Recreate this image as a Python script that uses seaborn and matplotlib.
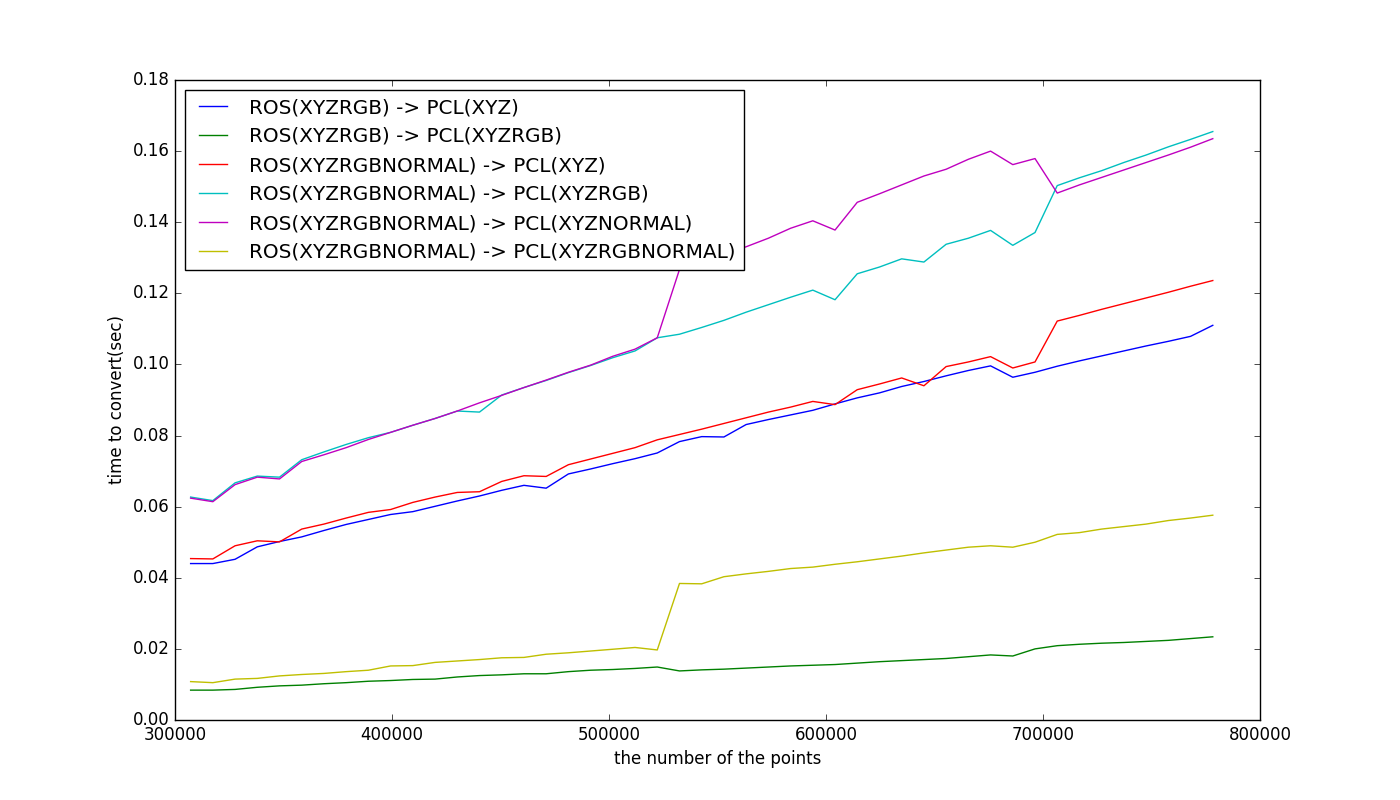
import pandas as pd
import seaborn as sns
import matplotlib
matplotlib.use("Agg")
import matplotlib.pyplot as plt

points = [307200, 317440, 327680, 337920, 348160, 358400, 368640, 378880, 389120, 399360,
          409600, 419840, 430080, 440320, 450560, 460800, 471040, 481280, 491520, 501760,
          512000, 522240, 532480, 542720, 552960, 563200, 573440, 583680, 593920, 604160,
          614400, 624640, 634880, 645120, 655360, 665600, 675840, 686080, 696320, 706560,
          716800, 727040, 737280, 747520, 757760, 768000, 778240]

xyzrgb_to_xyz = [0.0440, 0.0440, 0.0452, 0.0487, 0.0502, 0.0515, 0.0533, 0.0550, 0.0564, 0.0578,
                 0.0586, 0.0601, 0.0616, 0.0630, 0.0646, 0.0660, 0.0652, 0.0692, 0.0706, 0.0721,
                 0.0735, 0.0751, 0.0783, 0.0797, 0.0796, 0.0831, 0.0845, 0.0858, 0.0871, 0.0889,
                 0.0906, 0.0920, 0.0938, 0.0952, 0.0968, 0.0983, 0.0996, 0.0964, 0.0978, 0.0995,
                 0.1010, 0.1024, 0.1038, 0.1052, 0.1065, 0.1079, 0.1110]
xyzrgb_to_xyzrgb = [0.0084, 0.0084, 0.0086, 0.0092, 0.0096, 0.0098, 0.0102, 0.0105, 0.0109, 0.0111,
                    0.0114, 0.0115, 0.0121, 0.0125, 0.0127, 0.0130, 0.0130, 0.0136, 0.0140, 0.0142,
                    0.0145, 0.0149, 0.0138, 0.0141, 0.0143, 0.0146, 0.0149, 0.0152, 0.0154, 0.0156,
                    0.0160, 0.0164, 0.0167, 0.0170, 0.0173, 0.0178, 0.0183, 0.0180, 0.0200, 0.0209,
                    0.0213, 0.0216, 0.0218, 0.0221, 0.0224, 0.0229, 0.0234]
normal_to_xyz = [0.0454, 0.0453, 0.0490, 0.0504, 0.0501, 0.0537, 0.0551, 0.0568, 0.0584, 0.0592,
                 0.0612, 0.0627, 0.0640, 0.0642, 0.0671, 0.0687, 0.0685, 0.0718, 0.0734, 0.0750,
                 0.0766, 0.0788, 0.0803, 0.0818, 0.0834, 0.0850, 0.0866, 0.0880, 0.0896, 0.0887,
                 0.0929, 0.0945, 0.0962, 0.0940, 0.0994, 0.1007, 0.1022, 0.0990, 0.1007, 0.1122,
                 0.1138, 0.1155, 0.1171, 0.1187, 0.1203, 0.1220, 0.1236]
normal_to_xyzrgb = [0.0627, 0.0617, 0.0667, 0.0686, 0.0683, 0.0732, 0.0754, 0.0775, 0.0794, 0.0809,
                    0.0829, 0.0848, 0.0869, 0.0866, 0.0914, 0.0935, 0.0955, 0.0977, 0.0997, 0.1019,
                    0.1038, 0.1075, 0.1085, 0.1104, 0.1124, 0.1147, 0.1168, 0.1189, 0.1209, 0.1182,
                    0.1255, 0.1274, 0.1297, 0.1288, 0.1338, 0.1355, 0.1377, 0.1335, 0.1371, 0.1503,
                    0.1525, 0.1545, 0.1568, 0.1589, 0.1612, 0.1633, 0.1655]
normal_to_xyznormal = [0.0624, 0.0614, 0.0662, 0.0683, 0.0678, 0.0727, 0.0746, 0.0766, 0.0789, 0.0809,
                       0.0829, 0.0848, 0.0869, 0.0892, 0.0913, 0.0935, 0.0956, 0.0978, 0.0998, 0.1023,
                       0.1043, 0.1075, 0.1267, 0.1288, 0.1310, 0.1331, 0.1355, 0.1383, 0.1404, 0.1378,
                       0.1456, 0.1480, 0.1505, 0.1530, 0.1549, 0.1577, 0.1600, 0.1562, 0.1579, 0.1482,
                       0.1505, 0.1526, 0.1547, 0.1568, 0.1589, 0.1611, 0.1635]
normal_to_xyzrgbnormal = [0.0108, 0.0105, 0.0115, 0.0117, 0.0124, 0.0128, 0.0131, 0.0136, 0.0140, 0.0152,
                          0.0153, 0.0162, 0.0166, 0.0170, 0.0175, 0.0176, 0.0185, 0.0189, 0.0194, 0.0199,
                          0.0204, 0.0197, 0.0384, 0.0383, 0.0403, 0.0411, 0.0418, 0.0426, 0.0430, 0.0438,
                          0.0445, 0.0453, 0.0461, 0.0470, 0.0478, 0.0486, 0.0490, 0.0486, 0.0500, 0.0522,
                          0.0527, 0.0537, 0.0544, 0.0551, 0.0561, 0.0568, 0.0576]

labels = ["ROS(XYZRGB) -> PCL(XYZ)",
          "ROS(XYZRGB) -> PCL(XYZRGB)",
          "ROS(XYZRGBNORMAL) -> PCL(XYZ)",
          "ROS(XYZRGBNORMAL) -> PCL(XYZRGB)",
          "ROS(XYZRGBNORMAL) -> PCL(XYZNORMAL)",
          "ROS(XYZRGBNORMAL) -> PCL(XYZRGBNORMAL)"]
series = [xyzrgb_to_xyz, xyzrgb_to_xyzrgb, normal_to_xyz,
          normal_to_xyzrgb, normal_to_xyznormal, normal_to_xyzrgbnormal]
colors = ["b", "g", "r", "c", "m", "y"]


def main():
    plt.style.use("classic")
    fig, ax = plt.subplots(figsize=(14, 8), dpi=100)
    fig.patch.set_facecolor("white")

    for vals, lab, col in zip(series, labels, colors):
        df = pd.DataFrame({"points": points, "time": vals})
        sns.lineplot(data=df, x="points", y="time", color=col, label=lab,
                     linewidth=1.0, ax=ax)

    ax.set_xlim(300000, 800000)
    ax.set_ylim(0.0, 0.18)
    ax.set_yticks([0.00, 0.02, 0.04, 0.06, 0.08, 0.10, 0.12, 0.14, 0.16, 0.18])
    ax.yaxis.set_major_formatter(matplotlib.ticker.FormatStrFormatter("%.2f"))
    ax.xaxis.set_major_formatter(matplotlib.ticker.FormatStrFormatter("%d"))
    ax.set_xlabel("the number of the points", fontsize=12)
    ax.set_ylabel("time to convert(sec)", fontsize=12)
    # classic 'large' legend text, as in the original
    ax.legend(loc="upper left", fontsize=14.4)

    fig.subplots_adjust(left=0.125, right=0.9, top=0.9, bottom=0.1)
    fig.savefig("out.png", dpi=100, facecolor="white")


if __name__ == "__main__":
    main()
